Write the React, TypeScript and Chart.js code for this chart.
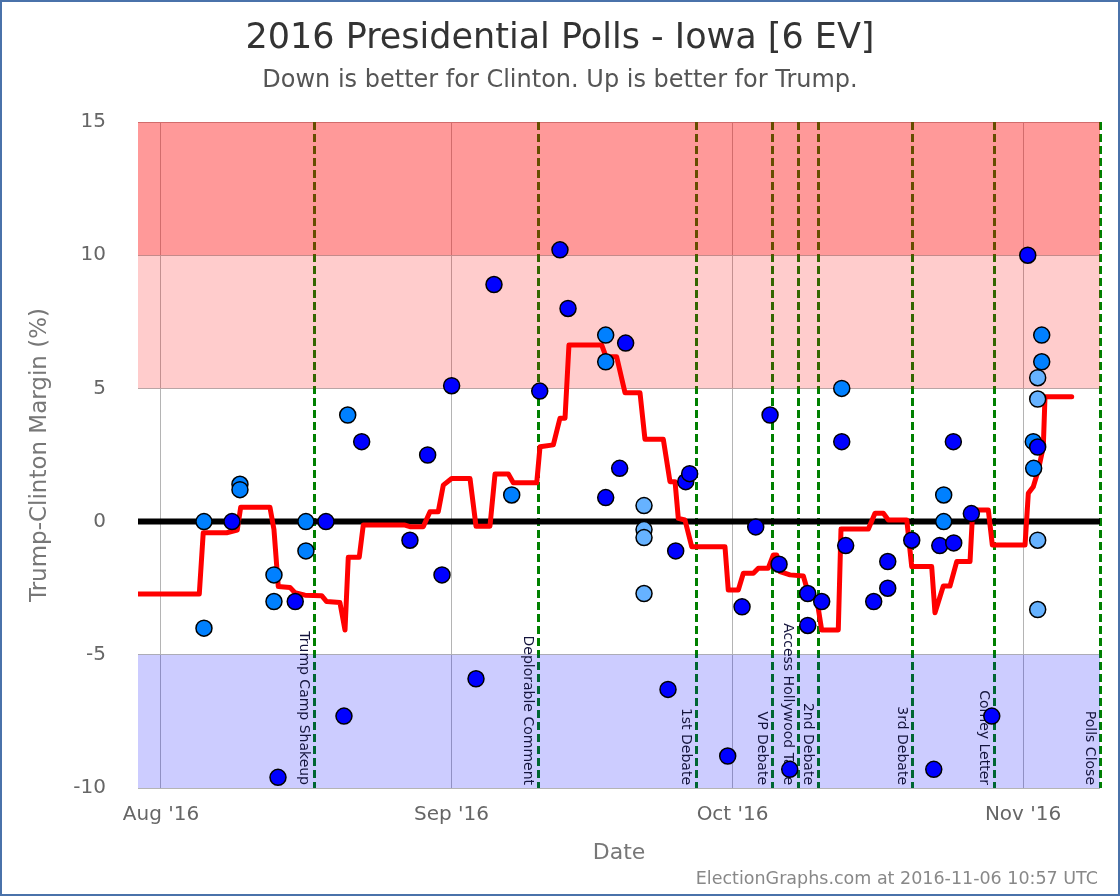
import React, { useEffect, useRef } from "react";
import { Chart, registerables } from "chart.js";

Chart.register(...registerables);

// ---- Axis ticks (x in days since Aug 1 2016) ----
const xTickDays = [0, 31, 61, 92];
const xTickLabels = ["Aug '16", "Sep '16", "Oct '16", "Nov '16"];
const xMin = -2.45;
const xMax = 100.21;
const yTickValues = [-10, -5, 0, 5, 10, 15];

// ---- Events ----
const eventNames = [
  "Trump Camp Shakeup",
  "Deplorable Comment",
  "1st Debate",
  "VP Debate",
  "Access Hollywood Tape",
  "2nd Debate",
  "3rd Debate",
  "Comey Letter",
  "Polls Close",
];
const eventDays = [16.33, 40.23, 57.08, 65.18, 67.95, 70.09, 80.15, 88.86, 100.21];

// ---- Bands ----
const bandLows = [10, 5, -10];
const bandHighs = [15, 10, -5];
const bandColors = ["rgba(255,0,0,0.4)", "rgba(255,0,0,0.2)", "rgba(0,0,255,0.2)"];

// ---- Running average (red line) ----
const avgDays = [
  -2.45, 4.09, 4.51, 7.01, 8.14, 8.51, 11.63, 12.06, 12.52, 13.77, 14.3, 15.37, 17.15, 17.68,
  19.1, 19.64, 19.99, 21.16, 21.59, 26.04, 26.57, 27.99, 28.71, 29.59, 30.13, 31.02, 32.98,
  33.62, 35.11, 35.65, 37.07, 37.6, 40.1, 40.45, 41.87, 42.58, 43.12, 43.54, 47.03, 47.49,
  48.63, 49.52, 51.12, 51.65, 53.61, 54.32, 54.86, 55.21, 55.92, 56.64, 60.19, 60.54, 61.61,
  62.15, 63.22, 63.75, 64.81, 65.35, 65.71, 66.06, 67.13, 68.55, 69.08, 69.98, 70.51, 72.28,
  72.57, 75.49, 76.2, 77.09, 77.62, 79.59, 80.12, 82.25, 82.6, 83.49, 84.2, 84.92, 86.34,
  86.63, 88.29, 88.72, 92.21, 92.56, 93.09, 93.63, 94.16, 94.34, 97.19,
];
const avgValues = [
  -2.72, -2.72, -0.42, -0.42, -0.32, 0.54, 0.54, -0.3, -2.44, -2.47, -2.67, -2.76, -2.78, -3.0,
  -3.04, -4.07, -1.34, -1.34, -0.13, -0.13, -0.19, -0.19, 0.37, 0.37, 1.37, 1.62, 1.62,
  -0.17, -0.17, 1.79, 1.79, 1.46, 1.46, 2.81, 2.88, 3.88, 3.88, 6.63, 6.63, 6.19,
  6.19, 4.84, 4.84, 3.09, 3.09, 1.5, 1.5, 0.12, 0.06, -0.94, -0.94, -2.57, -2.57,
  -1.94, -1.94, -1.75, -1.75, -1.25, -1.25, -1.88, -2.0, -2.04, -2.69, -2.88, -4.07, -4.07,
  -0.28, -0.28, 0.31, 0.31, 0.06, 0.06, -1.69, -1.69, -3.42, -2.42, -2.42, -1.5, -1.5,
  0.44, 0.44, -0.88, -0.88, 1.06, 1.31, 1.94, 2.81, 4.69, 4.69,
];

// ---- Polls: dark blue ----
const darkDays = [
  7.58, 12.49, 14.33, 17.61, 19.53, 21.42, 26.57, 28.46, 29.99, 31.02, 33.62, 35.54, 40.42,
  42.58, 43.44, 49.59, 47.46, 48.95, 54.11, 54.93, 56.0, 56.42, 60.48, 62.01, 63.47, 65.0,
  65.96, 67.1, 69.02, 69.02, 70.51, 72.65, 73.07, 76.06, 77.56, 77.56, 80.12, 82.47, 83.11,
  84.6, 84.56, 86.48, 88.66, 92.5, 93.56,
];
const darkValues = [
  0, -9.6, -3, 0, -7.3, 3, -0.7, 2.5, -2, 5.1, -5.9, 8.9, 4.9,
  10.2, 8, 6.7, 0.9, 2, -6.3, -1.1, 1.5, 1.8, -8.8, -3.2, -0.2, 4,
  -1.6, -9.3, -2.7, -3.9, -3, 3, -0.9, -3, -1.5, -2.5, -0.7, -9.3, -0.9,
  -0.8, 3, 0.3, -7.3, 10, 2.8,
];

// ---- Polls: medium blue ----
const mediumDays = [
  4.59, 4.59, 8.43, 8.43, 12.06, 12.06, 15.47, 15.47, 19.93, 37.43, 47.46, 47.46, 72.65,
  83.53, 83.53, 93.99, 93.99, 93.09, 93.13,
];
const mediumValues = [
  -4, 0, 1.4, 1.2, -2, -3, 0, -1.1, 4, 1, 7, 6, 5,
  1, 0, 7, 6, 3, 2,
];

// ---- Polls: light blue ----
const lightDays = [51.55, 51.55, 51.55, 51.55, 93.56, 93.56, 93.56, 93.56];
const lightValues = [0.6, -0.3, -0.6, -2.7, 5.4, 4.6, -0.7, -3.3];

const FONT = '"DejaVu Sans", sans-serif';

const toPoints = (xs: number[], ys: number[]) => xs.map((x, i) => ({ x, y: ys[i] }));

const overlayPlugin = {
  id: "overlay",
  beforeDatasetsDraw(chart: any) {
    const { ctx, chartArea } = chart;
    const x = chart.scales.x;
    const y = chart.scales.y;
    ctx.save();
    // event lines
    ctx.strokeStyle = "#008000";
    ctx.lineWidth = 3;
    ctx.setLineDash([8, 4]);
    eventDays.forEach((d) => {
      const px = Math.round(x.getPixelForValue(d)) + 0.5;
      ctx.beginPath();
      ctx.moveTo(px, chartArea.top);
      ctx.lineTo(px, chartArea.bottom);
      ctx.stroke();
    });
    ctx.setLineDash([]);
    // bands
    bandLows.forEach((lo, i) => {
      const top = y.getPixelForValue(bandHighs[i]);
      const bot = y.getPixelForValue(lo);
      ctx.fillStyle = bandColors[i];
      ctx.fillRect(chartArea.left, top, chartArea.right - chartArea.left, bot - top);
    });
    // zero line
    const y0 = y.getPixelForValue(0);
    ctx.strokeStyle = "#000";
    ctx.lineWidth = 6;
    ctx.beginPath();
    ctx.moveTo(chartArea.left, y0);
    ctx.lineTo(chartArea.right, y0);
    ctx.stroke();
    // event labels
    ctx.fillStyle = "#14143c";
    ctx.font = `14px ${FONT}`;
    ctx.textAlign = "right";
    ctx.textBaseline = "top";
    eventDays.forEach((d, i) => {
      const px = x.getPixelForValue(d);
      ctx.save();
      ctx.translate(px - 3, chartArea.bottom - 3);
      ctx.rotate(Math.PI / 2);
      ctx.fillText(eventNames[i], 0, 0);
      ctx.restore();
    });
    ctx.restore();
  },
  afterDraw(chart: any) {
    const { ctx, width, height } = chart;
    ctx.save();
    ctx.textAlign = "center";
    ctx.textBaseline = "middle";
    ctx.fillStyle = "#333";
    ctx.font = `35px ${FONT}`;
    ctx.fillText("2016 Presidential Polls - Iowa [6 EV]", width / 2, 39);
    ctx.fillStyle = "#555";
    ctx.font = `24px ${FONT}`;
    ctx.fillText("Down is better for Clinton. Up is better for Trump.", width / 2, 81);
    ctx.textAlign = "right";
    ctx.fillStyle = "#888";
    ctx.font = `17.5px ${FONT}`;
    ctx.fillText("ElectionGraphs.com at 2016-11-06 10:57 UTC", 1098, 879);
    ctx.strokeStyle = "#4a72aa";
    ctx.lineWidth = 2;
    ctx.strokeRect(1, 1, width - 2, height - 2);
    ctx.restore();
  },
};

export default function App() {
  const canvasRef = useRef<HTMLCanvasElement | null>(null);

  useEffect(() => {
    if (!canvasRef.current) return;
    const pointStyle = (color: string) => ({
      backgroundColor: color,
      borderColor: "#000",
      borderWidth: 1.5,
      pointRadius: 8,
      pointHoverRadius: 8,
      showLine: false,
    });
    const chart = new Chart(canvasRef.current, {
      type: "scatter",
      data: {
        datasets: [
          { label: "Polls (dark)", data: toPoints(darkDays, darkValues), ...pointStyle("#0000ff"), order: 1 },
          { label: "Polls (medium)", data: toPoints(mediumDays, mediumValues), ...pointStyle("#0080ff"), order: 2 },
          { label: "Polls (light)", data: toPoints(lightDays, lightValues), ...pointStyle("#66b2ff"), order: 3 },
          {
            label: "Average",
            data: toPoints(avgDays, avgValues),
            showLine: true,
            borderColor: "#ff0000",
            backgroundColor: "#ff0000",
            borderWidth: 5,
            pointRadius: 0,
            tension: 0,
            borderJoinStyle: "round",
            borderCapStyle: "round",
            order: 4,
          } as any,
        ],
      },
      options: {
        responsive: false,
        animation: false,
        events: [],
        layout: { padding: { top: 122, left: 0, right: 20, bottom: 0 } },
        plugins: {
          legend: { display: false },
          title: { display: false },
          tooltip: { enabled: false },
        },
        scales: {
          x: {
            type: "linear",
            min: xMin,
            max: xMax,
            afterBuildTicks: (scale: any) => {
              scale.ticks = xTickDays.map((v) => ({ value: v }));
            },
            afterFit: (scale: any) => {
              scale.height = 108;
            },
            ticks: {
              autoSkip: false,
              maxRotation: 0,
              padding: 15,
              color: "#666",
              font: { family: FONT, size: 20 },
              callback: (v: any) => {
                const i = xTickDays.indexOf(Number(v));
                return i >= 0 ? xTickLabels[i] : "";
              },
            },
            grid: { color: "#b4b4b4", lineWidth: 1, drawTicks: false },
            border: { display: false },
            title: {
              display: true,
              text: "Date",
              color: "#777",
              font: { family: FONT, size: 22 },
              padding: { top: 0, bottom: 30 },
            },
          },
          y: {
            type: "linear",
            min: -10,
            max: 15,
            afterBuildTicks: (scale: any) => {
              scale.ticks = yTickValues.map((v) => ({ value: v }));
            },
            afterFit: (scale: any) => {
              scale.width = 138;
            },
            ticks: {
              padding: 32,
              color: "#666",
              font: { family: FONT, size: 20 },
            },
            grid: { color: "#b4b4b4", lineWidth: 1, drawTicks: false },
            border: { display: false },
            title: {
              display: true,
              text: "Trump-Clinton Margin (%)",
              color: "#777",
              font: { family: FONT, size: 23 },
              padding: { top: 26, bottom: 0 },
            },
          },
        },
      },
      plugins: [overlayPlugin],
    });
    return () => chart.destroy();
  }, []);

  return (
    <div style={{ position: "absolute", left: 0, top: 0, width: 1120, height: 896, background: "#fff" }}>
      <canvas ref={canvasRef} width={1120} height={896} style={{ display: "block" }} />
    </div>
  );
}
